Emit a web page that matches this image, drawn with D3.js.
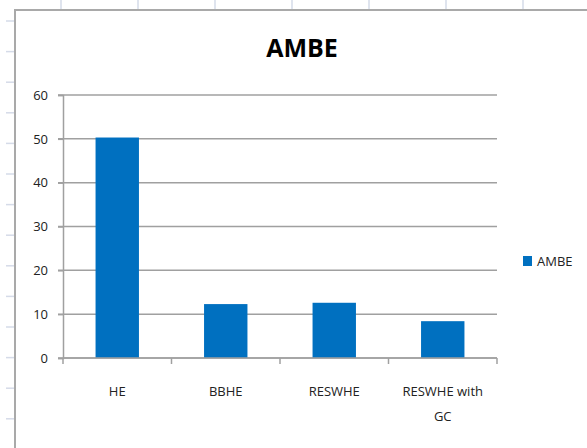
<!DOCTYPE html>
<meta charset="utf-8">
<script src="https://d3js.org/d3.v7.min.js"></script>
<style>
  body { margin: 0; background: #fff; }
  text { font-family: "Liberation Sans Narrow", "Open Sans", sans-serif; }
</style>
<div id="my_dataviz"></div>
<script>

// chart data
var categories = ["HE", "BBHE", "RESWHE", "RESWHE with GC"]
var ambe = [50.3, 12.3, 12.6, 8.4]
var yTicks = [0, 10, 20, 30, 40, 50, 60]
var seriesName = "AMBE"

var width = 587
var height = 448

var svg = d3.select("#my_dataviz")
  .append("svg")
    .attr("width", width)
    .attr("height", height)

// spreadsheet cell lines behind the chart
var sheet = svg.append("g").attr("stroke", "#d5dbe8").attr("stroke-width", 1.5)
d3.range(61, 600, 77).forEach(function(x){
  sheet.append("line").attr("x1", x).attr("x2", x).attr("y1", 0).attr("y2", 10)
})
d3.range(21, 448, 30.6).forEach(function(y){
  sheet.append("line").attr("x1", 6).attr("x2", 14).attr("y1", y).attr("y2", y)
})

// chart frame
svg.append("rect")
  .attr("x", 15).attr("y", 10)
  .attr("width", 600).attr("height", 460)
  .attr("fill", "#fff")
  .attr("stroke", "#a9a9a9")
  .attr("stroke-width", 2)

// scales
var x = d3.scaleBand()
  .domain(categories)
  .range([63, 497])
  .paddingInner(0.6)
  .paddingOuter(0.3)

var y = d3.scaleLinear()
  .domain([0, 60])
  .range([358, 95])

// gridlines
svg.append("g")
  .selectAll("line")
  .data(yTicks)
  .enter()
  .append("line")
    .attr("x1", 58)
    .attr("x2", 497)
    .attr("y1", function(d){ return y(d) })
    .attr("y2", function(d){ return y(d) })
    .attr("stroke", "#a0a0a0")
    .attr("stroke-width", 1.5)

// bars
svg.append("g")
  .selectAll("rect")
  .data(ambe)
  .enter()
  .append("rect")
    .attr("x", function(d, i){ return x(categories[i]) })
    .attr("y", function(d){ return y(d) })
    .attr("width", x.bandwidth())
    .attr("height", function(d){ return y(0) - y(d) })
    .attr("fill", "#0070c0")

// y axis
var yAxis = svg.append("g")
  .attr("transform", "translate(63,0)")
  .call(d3.axisLeft(y).tickValues(yTicks).tickSize(5).tickPadding(10))
yAxis.select(".domain").attr("stroke", "#a0a0a0").attr("stroke-width", 1.5)
yAxis.selectAll(".tick line").attr("stroke", "#a0a0a0").attr("stroke-width", 1.5)
yAxis.selectAll("text")
  .attr("font-size", 13)
  .attr("fill", "#222")
  .style("font-family", "'Liberation Sans Narrow', 'Open Sans', sans-serif")

// x axis
var xEdges = d3.range(0, categories.length + 1).map(function(i){ return 63 + i * (434 / categories.length) })
var xAxis = svg.append("g")
xAxis.append("line")
  .attr("x1", 63).attr("x2", 497)
  .attr("y1", y(0)).attr("y2", y(0))
  .attr("stroke", "#a0a0a0").attr("stroke-width", 1.5)
xAxis.selectAll(".tk")
  .data(xEdges)
  .enter()
  .append("line")
    .attr("x1", function(d){ return d }).attr("x2", function(d){ return d })
    .attr("y1", y(0)).attr("y2", y(0) + 6)
    .attr("stroke", "#a0a0a0").attr("stroke-width", 1.5)

// category labels (wrapped like the original)
var labelLines = [["HE"], ["BBHE"], ["RESWHE"], ["RESWHE with", "GC"]]
xAxis.selectAll(".lbl")
  .data(categories)
  .enter()
  .append("text")
    .attr("x", function(d){ return x(d) + x.bandwidth() / 2 })
    .attr("y", 396)
    .attr("text-anchor", "middle")
    .attr("font-size", 13)
    .attr("fill", "#222")
    .each(function(d, i){
      var t = d3.select(this)
      labelLines[i].forEach(function(s, j){
        t.append("tspan")
          .attr("x", x(d) + x.bandwidth() / 2)
          .attr("dy", j === 0 ? 0 : 25)
          .text(s)
      })
    })

// title
svg.append("text")
  .attr("x", 302)
  .attr("y", 57)
  .attr("text-anchor", "middle")
  .attr("font-size", 25)
  .attr("font-weight", "bold")
  .attr("fill", "#000")
  .text(seriesName)

// legend
svg.append("rect")
  .attr("x", 523).attr("y", 256)
  .attr("width", 9).attr("height", 10)
  .attr("fill", "#0070c0")
svg.append("text")
  .attr("x", 537).attr("y", 266)
  .attr("font-size", 13)
  .attr("fill", "#222")
  .text(seriesName)

</script>
